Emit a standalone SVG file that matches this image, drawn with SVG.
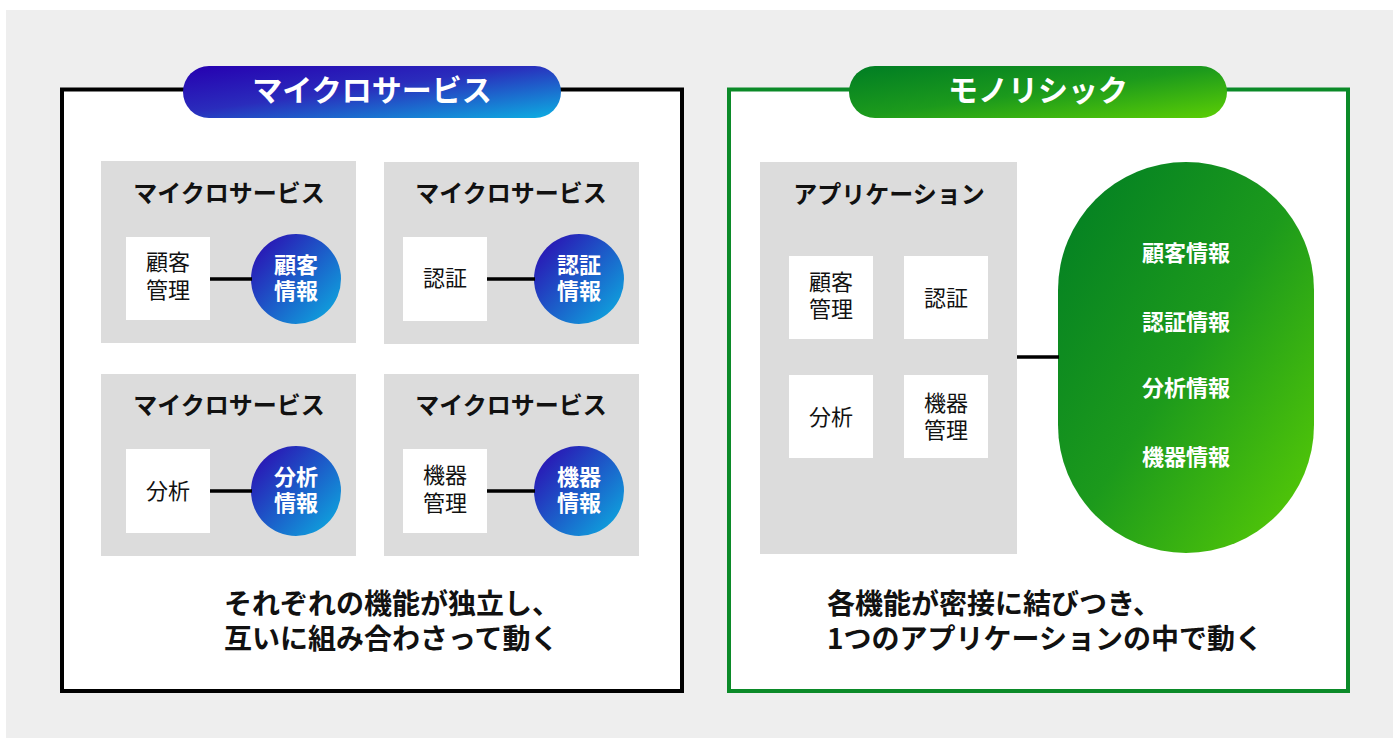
<svg xmlns="http://www.w3.org/2000/svg" width="1393" height="738" viewBox="0 0 1393 738">
<defs>
<linearGradient id="gBlue" x1="0" y1="0" x2="1" y2="1">
<stop offset="0" stop-color="#2600b0"/>
<stop offset="0.45" stop-color="#2a2cbc"/>
<stop offset="1" stop-color="#0cb0e2"/>
</linearGradient>
<linearGradient id="gCircle" x1="0.1" y1="0.1" x2="0.95" y2="0.9">
<stop offset="0" stop-color="#2a14b4"/>
<stop offset="1" stop-color="#0ea6de"/>
</linearGradient>
<linearGradient id="gGreen" x1="0" y1="0" x2="1" y2="1">
<stop offset="0" stop-color="#007d24"/>
<stop offset="0.5" stop-color="#1c9a1c"/>
<stop offset="1" stop-color="#5ccf04"/>
</linearGradient>
<style>
text{font-family:"Noto Sans CJK JP","Noto Sans",sans-serif;}
.box{fill:#dcdcdc;}
.wbox{fill:#ffffff;}
.t24{font-size:24px;font-weight:bold;fill:#111;text-anchor:middle;}
.t22{font-size:22px;fill:#111;text-anchor:middle;}
.w22{font-size:22px;font-weight:bold;fill:#fff;text-anchor:middle;}
.pill{font-size:30px;font-weight:bold;fill:#fff;text-anchor:middle;}
.cap{font-size:28px;font-weight:bold;fill:#111;}
.conn{stroke:#000;stroke-width:3.5;fill:none;}
</style>
</defs>
<rect x="6" y="10" width="1387" height="728" fill="#eeeeee"/>

<g id="panel-micro">
<rect x="62" y="89.5" width="620" height="601.5" fill="#fff" stroke="#000" stroke-width="4"/>
<rect x="183" y="66" width="378" height="52" rx="26" fill="url(#gBlue)"/>
<text class="pill" x="372" y="101">マイクロサービス</text>
</g>

<g id="panel-mono">
<rect x="729" y="89.5" width="619" height="601.5" fill="#fff" stroke="#0b8a28" stroke-width="4"/>
<rect x="849" y="66" width="378" height="52" rx="26" fill="url(#gGreen)"/>
<text class="pill" x="1038" y="101">モノリシック</text>
</g>

<g id="ms1">
<rect class="box" x="101" y="161" width="255" height="182"/>
<text class="t24" x="229" y="202">マイクロサービス</text>
<rect class="wbox" x="126" y="237" width="84" height="83"/>
<text class="t22" x="168" y="270"><tspan x="168">顧客</tspan><tspan x="168" dy="28">管理</tspan></text>
<circle cx="296" cy="279" r="45" fill="url(#gCircle)"/>
<text class="w22" x="296" y="273"><tspan x="296">顧客</tspan><tspan x="296" dy="26">情報</tspan></text>
</g>

<g id="ms2">
<rect class="box" x="384" y="162" width="255" height="182"/>
<text class="t24" x="511" y="202">マイクロサービス</text>
<rect class="wbox" x="403" y="237" width="84" height="84"/>
<text class="t22" x="445" y="286">認証</text>
<circle cx="579" cy="279" r="45" fill="url(#gCircle)"/>
<text class="w22" x="579" y="273"><tspan x="579">認証</tspan><tspan x="579" dy="26">情報</tspan></text>
</g>

<g id="ms3">
<rect class="box" x="101" y="374" width="255" height="182"/>
<text class="t24" x="229" y="414">マイクロサービス</text>
<rect class="wbox" x="126" y="449" width="84" height="84"/>
<text class="t22" x="168" y="499">分析</text>
<circle cx="296" cy="491" r="45" fill="url(#gCircle)"/>
<text class="w22" x="296" y="485"><tspan x="296">分析</tspan><tspan x="296" dy="26">情報</tspan></text>
</g>

<g id="ms4">
<rect class="box" x="384" y="374" width="255" height="182"/>
<text class="t24" x="511" y="414">マイクロサービス</text>
<rect class="wbox" x="403" y="449" width="84" height="84"/>
<text class="t22" x="445" y="483"><tspan x="445">機器</tspan><tspan x="445" dy="28">管理</tspan></text>
<circle cx="579" cy="491" r="45" fill="url(#gCircle)"/>
<text class="w22" x="579" y="485"><tspan x="579">機器</tspan><tspan x="579" dy="26">情報</tspan></text>
</g>

<g id="app">
<rect class="box" x="760" y="162" width="257" height="392"/>
<text class="t24" x="889" y="203">アプリケーション</text>
<rect class="wbox" x="789" y="256" width="84" height="83"/>
<text class="t22" x="831" y="290"><tspan x="831">顧客</tspan><tspan x="831" dy="27">管理</tspan></text>
<rect class="wbox" x="904" y="256" width="84" height="83"/>
<text class="t22" x="946" y="306">認証</text>
<rect class="wbox" x="789" y="375" width="84" height="83"/>
<text class="t22" x="831" y="425">分析</text>
<rect class="wbox" x="904" y="375" width="84" height="83"/>
<text class="t22" x="946" y="411"><tspan x="946">機器</tspan><tspan x="946" dy="27">管理</tspan></text>
</g>

<g id="db">
<rect x="1058" y="162" width="256" height="391" rx="128" fill="url(#gGreen)"/>
<text class="w22" x="1186" y="261">顧客情報</text>
<text class="w22" x="1186" y="330">認証情報</text>
<text class="w22" x="1186" y="396">分析情報</text>
<text class="w22" x="1186" y="465">機器情報</text>
</g>

<g id="connectors">
<line class="conn" x1="210" y1="279" x2="252" y2="279"/>
<line class="conn" x1="487" y1="279" x2="535" y2="279"/>
<line class="conn" x1="210" y1="491" x2="252" y2="491"/>
<line class="conn" x1="487" y1="491" x2="535" y2="491"/>
<line class="conn" x1="1017" y1="357" x2="1059" y2="357"/>
</g>

<g id="caption-left">
<text class="cap" x="224" y="614"><tspan x="224">それぞれの機能が独立し、</tspan><tspan x="224" dy="35">互いに組み合わさって動く</tspan></text>
</g>
<g id="caption-right">
<text class="cap" x="827" y="614"><tspan x="827">各機能が密接に結びつき、</tspan><tspan x="827" dy="35">1つのアプリケーションの中で動く</tspan></text>
</g>
</svg>
